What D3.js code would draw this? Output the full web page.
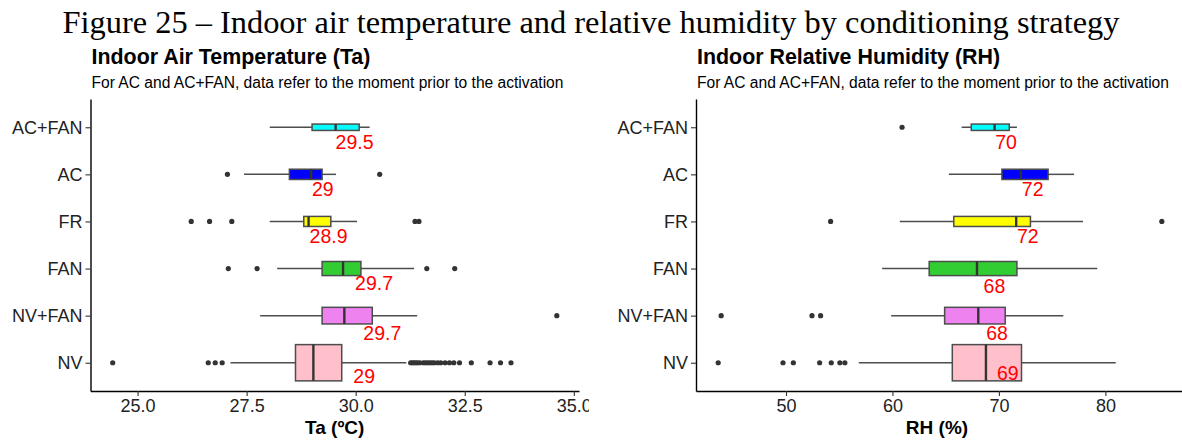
<!DOCTYPE html>
<html>
<head>
<meta charset="utf-8">
<script src="https://cdn.jsdelivr.net/npm/d3@7"></script>
<style>
  body { margin: 0; background: #fff; }
  svg { display: block; }
</style>
</head>
<body>
<div id="chart"></div>
<script>
// categories from top to bottom
const categories = ["AC+FAN", "AC", "FR", "FAN", "NV+FAN", "NV"];
// sample sizes (estimated from the box thickness, varwidth)
const nObs = [31, 80, 77, 151, 210, 1000];

// Indoor air temperature (ºC)
const taWhiskerLow  = [28.03, 27.44, 28.03, 28.2, 27.81, 27.13];
const taQ1          = [29.0, 28.48, 28.81, 29.23, 29.23, 28.62];
const taMedian      = [29.54, 28.98, 28.92, 29.71, 29.74, 29.03];
const taQ3          = [30.08, 29.23, 29.43, 30.12, 30.38, 29.68];
const taWhiskerHigh = [30.32, 29.55, 30.03, 31.34, 31.41, 31.16];
const taOutliers = [
  [],
  [27.06, 30.55],
  [26.23, 26.65, 27.16, 31.36, 31.45],
  [27.08, 27.74, 31.63, 32.27],
  [34.61],
  [24.43, 26.62, 26.78, 26.94, 31.26, 31.3, 31.34, 31.38, 31.42, 31.47, 31.55, 31.6, 31.65,
   31.7, 31.75, 31.8, 31.88, 31.95, 32.05, 32.15, 32.25, 32.38, 32.65, 33.08, 33.32, 33.56]
];
const taLabels = ["29.5", "29", "28.9", "29.7", "29.7", "29"];
const taTicks = [25, 27.5, 30, 32.5, 35];

// Indoor relative humidity (%)
const rhWhiskerLow  = [66.5, 65.3, 60.69, 59.03, 59.88, 56.84];
const rhQ1          = [67.4, 70.28, 65.76, 63.45, 64.9, 65.62];
const rhMedian      = [69.59, 72.06, 71.62, 67.94, 68.06, 68.78];
const rhQ3          = [70.97, 74.62, 72.96, 71.69, 70.59, 72.12];
const rhWhiskerHigh = [71.69, 77.06, 77.9, 79.24, 76.05, 80.97];
const rhOutliers = [
  [60.9],
  [],
  [54.19, 85.3],
  [],
  [43.91, 52.44, 53.25],
  [43.63, 49.72, 50.69, 53.16, 54.25, 55.06, 55.53]
];
const rhLabels = ["70", "72", "72", "68", "68", "69"];
const rhTicks = [50, 60, 70, 80];

// styling
const fills = ["#00FFFF", "#0000FF", "#FFFF00", "#32CD32", "#EE82EE", "#FFC0CB"];
// label nudges (px) as they sit in the picture
const taLabelShift = [[0, 21.7], [0.7, 21.7], [1, 21.6], [12, 21.3], [19, 24], [40, 20]];
const rhLabelShift = [[0.7, 21.7], [1, 22], [0.7, 21.7], [6.6, 24.3], [8, 24], [11, 17]];

const width = 1182, height = 440;
const plotTop = 99, plotBottom = 391;
const sans = "'Liberation Sans', Arial, sans-serif";

const svg = d3.select("#chart")
  .append("svg")
  .attr("width", width)
  .attr("height", height)
  .style("background", "#fff");

// the left figure is cropped just after its last tick label
svg.append("defs").append("clipPath")
  .attr("id", "clipLeft")
  .append("rect")
  .attr("x", 0).attr("y", 0)
  .attr("width", 589).attr("height", height);

svg.append("text")
  .attr("x", 591)
  .attr("y", 33)
  .attr("text-anchor", "middle")
  .style("font-family", "'Liberation Serif', 'Times New Roman', serif")
  .style("font-size", "32.4px")
  .style("fill", "#000")
  .text("Figure 25 – Indoor air temperature and relative humidity by conditioning strategy");

function panel(opts) {
  const stats = categories.map((c, i) => ({
    cat: c,
    lo: opts.whiskerLow[i], q1: opts.q1[i], med: opts.median[i], q3: opts.q3[i], hi: opts.whiskerHigh[i],
    out: opts.outliers[i], label: opts.labels[i], shift: opts.shift[i], n: nObs[i], fill: fills[i]
  }));

  // ggplot style 5% expansion
  const all = stats.flatMap(d => [d.lo, d.hi, ...d.out]);
  const ext = d3.extent(all);
  const pad = (ext[1] - ext[0]) * 0.05;

  const x = d3.scaleLinear()
    .domain([ext[0] - pad, ext[1] + pad])
    .range([opts.left, opts.right]);

  const y = d3.scalePoint()
    .domain(categories.slice().reverse())
    .range([plotBottom, plotTop])
    .padding(0.6);

  const boxH = d3.scaleSqrt()
    .domain([0, d3.max(nObs)])
    .range([0, y.step() * 0.77]);

  const g = svg.append("g");
  if (opts.clip) g.attr("clip-path", `url(#${opts.clip})`);

  // titles
  g.append("text")
    .attr("x", opts.left + 1)
    .attr("y", 64)
    .style("font-family", sans)
    .style("font-weight", "bold")
    .style("font-size", "21.4px")
    .style("fill", "#000")
    .text(opts.title);

  g.append("text")
    .attr("x", opts.left + 1)
    .attr("y", 88)
    .style("font-family", sans)
    .style("font-size", "15.6px")
    .style("fill", "#000")
    .text("For AC and AC+FAN, data refer to the moment prior to the activation");

  // axes
  const xAxis = g.append("g")
    .attr("transform", `translate(0,${plotBottom})`)
    .call(d3.axisBottom(x).tickValues(opts.ticks).tickFormat(opts.format).tickSize(5).tickSizeOuter(0));
  const yAxis = g.append("g")
    .attr("transform", `translate(${opts.left},0)`)
    .call(d3.axisLeft(y).tickSize(5).tickSizeOuter(0).tickPadding(3));

  [xAxis, yAxis].forEach(a => {
    a.select(".domain").attr("stroke", "#000").attr("stroke-width", 1.4);
    a.selectAll(".tick line").attr("stroke", "#333").attr("stroke-width", 1.1);
    a.selectAll(".tick text")
      .style("font-family", sans)
      .style("font-size", "18px")
      .attr("fill", "#222");
  });

  g.append("text")
    .attr("x", (opts.left + Math.min(opts.right, width)) / 2 + (opts.titleDx || 0))
    .attr("y", 434)
    .attr("text-anchor", "middle")
    .style("font-family", sans)
    .style("font-weight", "bold")
    .style("font-size", "19px")
    .style("fill", "#000")
    .text(opts.xTitle);

  const rows = g.selectAll(".row")
    .data(stats)
    .join("g")
    .attr("class", "row")
    .attr("transform", d => `translate(0,${y(d.cat)})`);

  // whiskers
  rows.append("line")
    .attr("x1", d => x(d.lo))
    .attr("x2", d => x(d.q1))
    .attr("stroke", "#4d4d4d")
    .attr("stroke-width", 1.5);
  rows.append("line")
    .attr("x1", d => x(d.q3))
    .attr("x2", d => x(d.hi))
    .attr("stroke", "#4d4d4d")
    .attr("stroke-width", 1.5);

  // boxes
  rows.append("rect")
    .attr("x", d => x(d.q1))
    .attr("y", d => -boxH(d.n) / 2)
    .attr("width", d => x(d.q3) - x(d.q1))
    .attr("height", d => boxH(d.n))
    .attr("fill", d => d.fill)
    .attr("stroke", "#4d4d4d")
    .attr("stroke-width", 1.5);

  // median
  rows.append("line")
    .attr("x1", d => x(d.med))
    .attr("x2", d => x(d.med))
    .attr("y1", d => -boxH(d.n) / 2)
    .attr("y2", d => boxH(d.n) / 2)
    .attr("stroke", "#333")
    .attr("stroke-width", 2.4);

  // outliers
  rows.selectAll("circle")
    .data(d => d.out)
    .join("circle")
    .attr("cx", v => x(v))
    .attr("cy", 0)
    .attr("r", 2.6)
    .attr("fill", "#333");

  // median labels
  rows.append("text")
    .attr("x", d => x(d.med) + d.shift[0])
    .attr("y", d => d.shift[1])
    .style("font-family", sans)
    .style("font-size", "19.5px")
    .style("fill", "#FF0000")
    .text(d => d.label);
}

panel({
  title: "Indoor Air Temperature (Ta)",
  xTitle: "Ta (ºC)",
  left: 90.5, right: 579, clip: "clipLeft",
  whiskerLow: taWhiskerLow, q1: taQ1, median: taMedian, q3: taQ3, whiskerHigh: taWhiskerHigh,
  outliers: taOutliers, labels: taLabels, shift: taLabelShift,
  ticks: taTicks, format: d3.format(".1f")
});

panel({
  title: "Indoor Relative Humidity (RH)",
  xTitle: "RH (%)",
  titleDx: -2,
  left: 696, right: 1184,
  whiskerLow: rhWhiskerLow, q1: rhQ1, median: rhMedian, q3: rhQ3, whiskerHigh: rhWhiskerHigh,
  outliers: rhOutliers, labels: rhLabels, shift: rhLabelShift,
  ticks: rhTicks, format: d3.format("d")
});
</script>
</body>
</html>
